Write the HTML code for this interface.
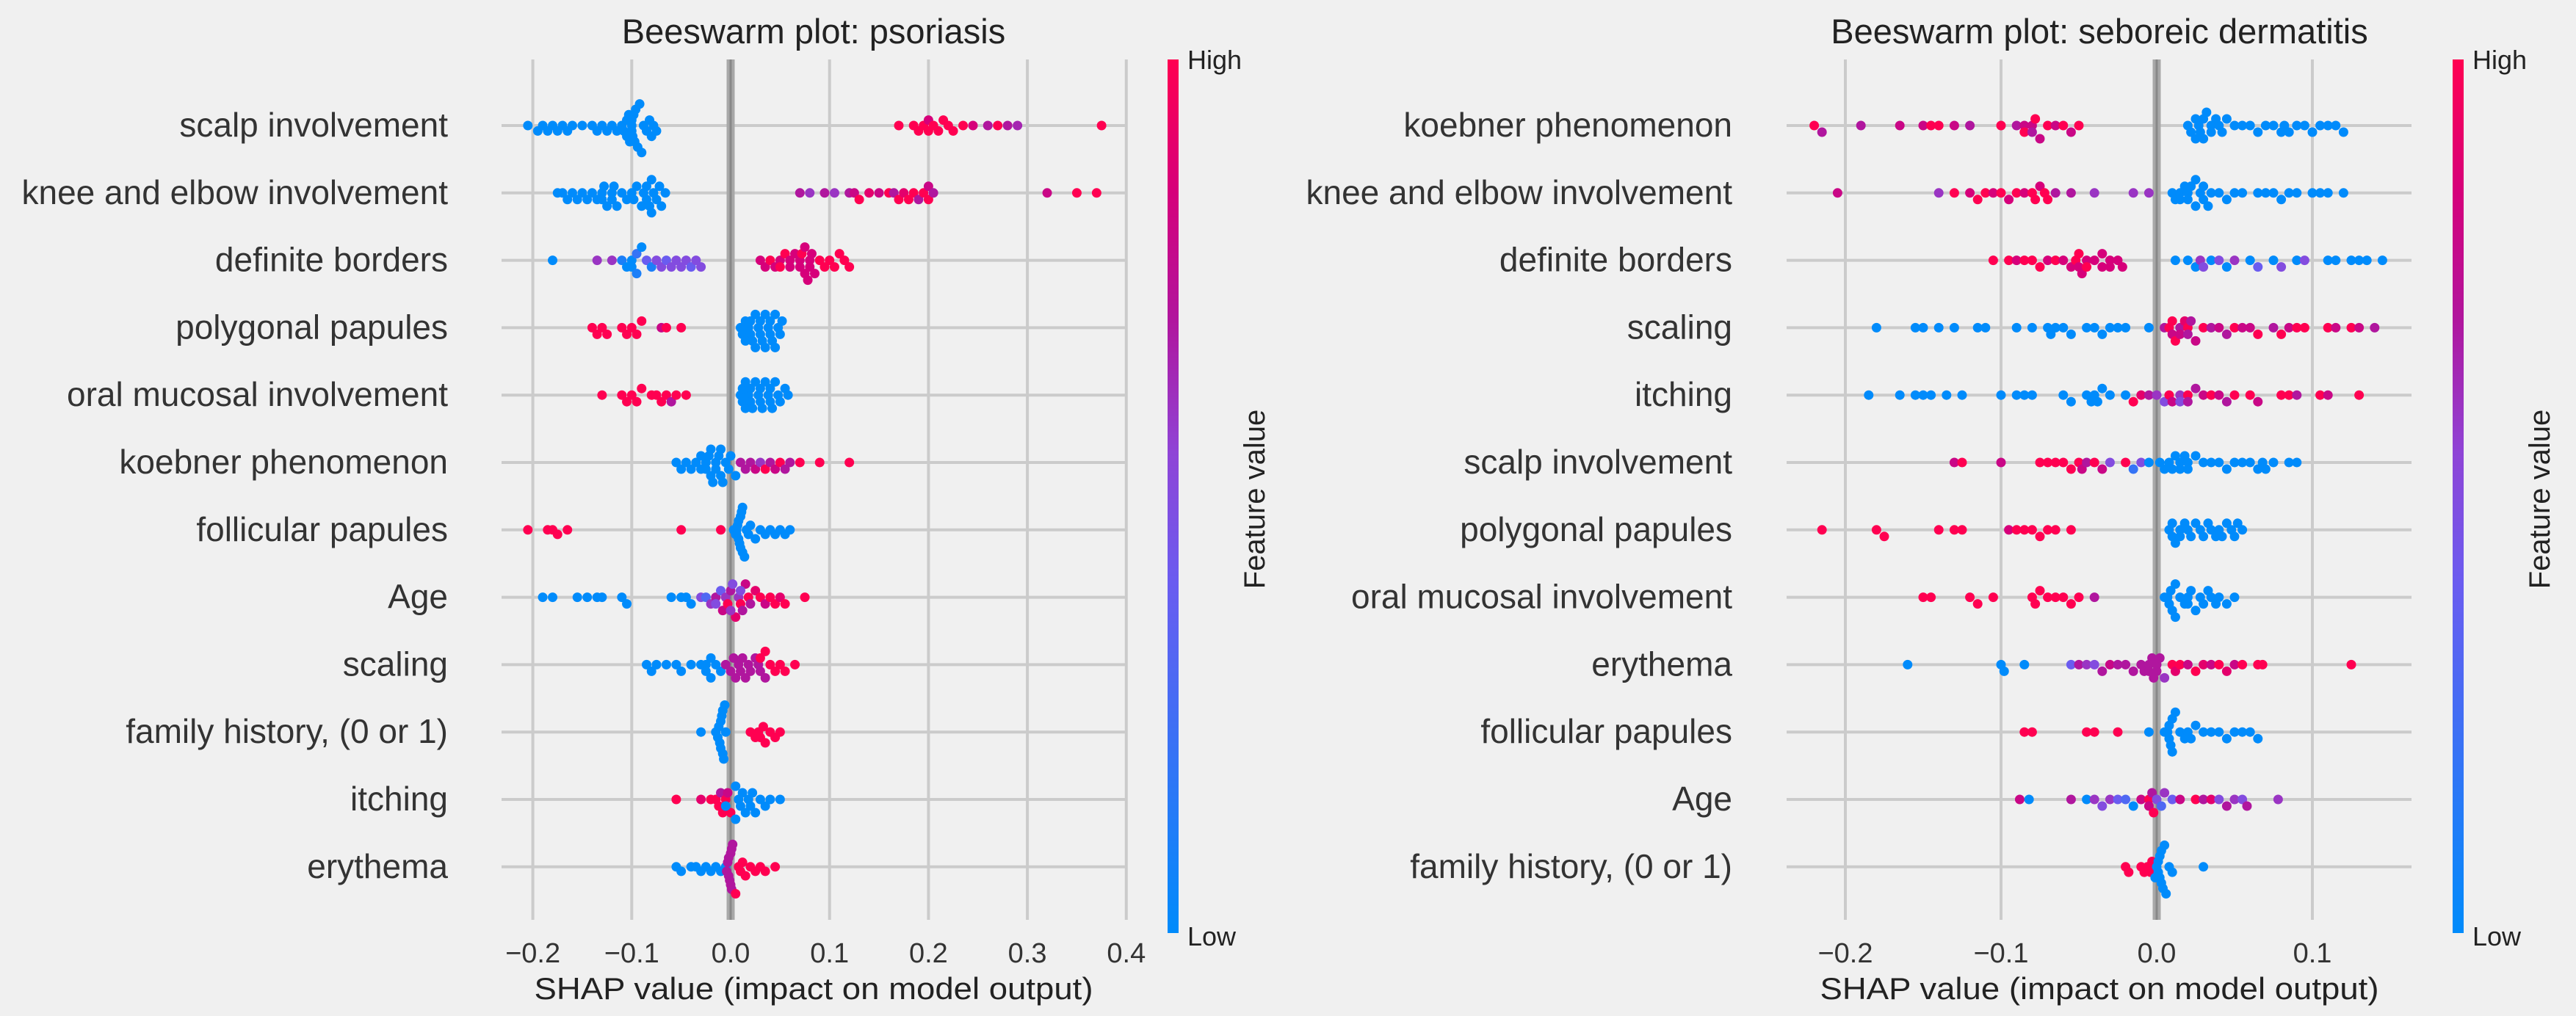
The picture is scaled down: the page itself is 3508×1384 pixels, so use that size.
<!DOCTYPE html>
<html><head><meta charset="utf-8"><style>
html,body{margin:0;padding:0;background:#f0f0f0;}
svg{display:block;font-family:"Liberation Sans",sans-serif;}
</style></head>
<body>
<svg id="chart" width="3508" height="1384" viewBox="0 0 3508 1384" xmlns="http://www.w3.org/2000/svg">
<defs>
<linearGradient id="cbar" x1="0" y1="1" x2="0" y2="0">
<stop offset="0" stop-color="#008bfb"/><stop offset="0.4" stop-color="#6a5cf0"/><stop offset="0.55" stop-color="#8f44d6"/><stop offset="0.7" stop-color="#b0169e"/><stop offset="0.85" stop-color="#d6007a"/><stop offset="1" stop-color="#ff0051"/>
</linearGradient>
</defs>
<rect x="0" y="0" width="3508" height="1384" fill="#f0f0f0"/>
</svg>
<script>
// ---------- DATA: psoriasis ----------
const psoFeatures = ["scalp involvement","knee and elbow involvement","definite borders","polygonal papules","oral mucosal involvement","koebner phenomenon","follicular papules","Age","scaling","family history, (0 or 1)","itching","erythema"];
const psoTicks = [-0.2,-0.1,0.0,0.1,0.2,0.3,0.4];
const psoTickLabels = ["\u22120.2","\u22120.1","0.0","0.1","0.2","0.3","0.4"];
const psoVals = [
[-0.205,-0.195,-0.19,-0.185,-0.18,-0.175,-0.17,-0.165,-0.16,-0.15,-0.14,-0.135,-0.13,-0.125,-0.12,-0.115,-0.11,-0.108,-0.105,-0.103,-0.1,-0.1,-0.098,-0.096,-0.094,-0.092,-0.09,-0.088,-0.085,-0.082,-0.08,-0.078,-0.075,-0.105,-0.1,-0.097,-0.102,-0.099,0.17,0.185,0.19,0.195,0.2,0.2,0.205,0.21,0.215,0.22,0.225,0.235,0.245,0.26,0.27,0.28,0.29,0.375],
[-0.175,-0.17,-0.165,-0.16,-0.155,-0.15,-0.145,-0.14,-0.135,-0.13,-0.128,-0.125,-0.12,-0.118,-0.115,-0.11,-0.105,-0.1,-0.098,-0.095,-0.09,-0.088,-0.085,-0.082,-0.08,-0.078,-0.075,-0.072,-0.07,-0.066,-0.13,-0.12,-0.085,-0.08,0.07,0.08,0.095,0.105,0.12,0.125,0.13,0.14,0.15,0.16,0.165,0.17,0.175,0.18,0.185,0.19,0.195,0.2,0.2,0.205,0.32,0.35,0.37],
[-0.18,-0.135,-0.12,-0.11,-0.105,-0.1,-0.095,-0.09,-0.085,-0.08,-0.075,-0.07,-0.065,-0.06,-0.055,-0.05,-0.045,-0.04,-0.035,-0.03,-0.1,-0.095,0.03,0.035,0.04,0.045,0.05,0.055,0.06,0.065,0.07,0.072,0.075,0.078,0.08,0.082,0.085,0.09,0.095,0.1,0.105,0.11,0.115,0.12,0.05,0.06,0.07,0.08,0.075],
[-0.14,-0.135,-0.13,-0.125,-0.11,-0.105,-0.1,-0.095,-0.09,-0.07,-0.065,-0.05,0.01,0.012,0.015,0.018,0.02,0.022,0.025,0.028,0.03,0.032,0.035,0.038,0.04,0.042,0.045,0.048,0.05,0.052,0.015,0.025,0.035,0.045,0.02,0.03,0.04],
[-0.13,-0.11,-0.105,-0.1,-0.095,-0.09,-0.08,-0.075,-0.07,-0.065,-0.06,-0.055,-0.045,0.01,0.012,0.015,0.018,0.02,0.022,0.025,0.028,0.03,0.032,0.035,0.038,0.04,0.042,0.045,0.048,0.05,0.055,0.058,0.012,0.02,0.03,0.04,0.015],
[-0.055,-0.05,-0.045,-0.04,-0.035,-0.03,-0.025,-0.022,-0.02,-0.018,-0.015,-0.012,-0.01,-0.008,-0.005,-0.002,0.0,0.005,-0.03,-0.02,-0.015,-0.01,-0.025,0.01,0.015,0.02,0.025,0.03,0.035,0.04,0.045,0.05,0.055,0.06,0.07,0.09,0.12],
[-0.205,-0.185,-0.18,-0.175,-0.165,-0.05,-0.01,0.003,0.005,0.006,0.007,0.008,0.009,0.01,0.011,0.012,0.014,0.016,0.018,0.02,0.025,0.03,0.035,0.04,0.045,0.05,0.055,0.06,0.008,0.01,0.012,0.006],
[-0.19,-0.18,-0.155,-0.145,-0.135,-0.13,-0.11,-0.105,-0.06,-0.05,-0.045,-0.04,-0.03,-0.025,-0.02,-0.015,-0.01,-0.008,-0.005,-0.003,0,0.002,0.005,0.008,0.01,0.012,0.015,0.018,0.02,0.025,0.03,0.035,0.04,0.045,0.05,0.055,0.075,-0.015,0.0,0.01],
[-0.085,-0.08,-0.075,-0.065,-0.055,-0.05,-0.04,-0.03,-0.025,-0.02,-0.015,-0.01,-0.025,-0.02,-0.005,0,0.003,0.005,0.008,0.01,0.012,0.015,0.018,0.02,0.025,0.028,0.03,0.035,0.03,0.035,0.04,0.045,0.05,0.055,0.065],
[-0.03,-0.015,-0.013,-0.011,-0.01,-0.009,-0.008,-0.007,-0.006,-0.005,-0.012,-0.01,-0.008,0.02,0.025,0.028,0.03,0.033,0.035,0.04,0.045,0.05],
[-0.055,-0.03,-0.02,-0.015,-0.012,-0.01,-0.008,-0.005,-0.003,0,0.005,0.008,0.01,0.012,0.015,0.018,0.02,0.022,0.025,0.03,0.035,0.04,0.05,-0.005,0.005],
[-0.055,-0.05,-0.04,-0.035,-0.03,-0.025,-0.02,-0.015,-0.01,-0.005,-0.004,-0.003,-0.002,-0.001,0,0.001,0.002,-0.002,0,0.001,0.005,0.008,0.01,0.012,0.015,0.02,0.025,0.03,0.035,0.045]
];
const psoFeat = [
[0,0,0,0,0,0,0,0,0,0,0,0,0,0,0,0,0,0,0,0,0,0,0,0,0,0,0,0,0,0,0,0,0,0,0,0,0,0,1,1,1,1,1,0.85,1,1,1,1,1,1,0.85,0.7,1,0.7,0.65,1],
[0,0,0,0,0,0,0,0,0,0,0,0,0,0,0,0,0,0,0,0,0,0,0,0,0,0,0,0,0,0,0,0,0,0,0.7,0.6,0.7,0.6,0.7,0.8,1,0.9,0.8,1,0.7,1,0.9,1,1,0.7,1,1,0.8,0.7,0.8,1,1],
[0,0.6,0.6,0.1,0,0,0.2,0,0.4,0.1,0.5,0.5,0.4,0.5,0.5,0.5,0.5,0.4,0.5,0.5,0,0.1,0.85,0.85,1,0.85,0.85,1,0.85,0.85,0.85,1,0.85,0.85,0.85,0.85,0.85,1,1,1,1,1,1,1,1,0.85,0.85,0.85,0.85],
[1,1,1,1,1,1,1,1,1,0.8,1,1,0,0,0,0,0,0,0,0,0,0,0,0,0,0,0,0,0,0,0,0,0,0,0,0,0],
[1,1,1,1,1,1,1,1,1,1,0.7,1,1,0,0,0,0,0,0,0,0,0,0,0,0,0,0,0,0,0,0,0,0,0,0,0,0],
[0,0,0,0,0,0,0,0,0,0,0,0,0,0,0,0,0,0,0,0,0,0,0,0.7,0.7,0.7,0.8,0.6,1,0.7,0.8,1,0.7,0.7,1,1,1],
[1,1,1,1,1,1,1,0,0,0,0,0,0,0,0,0,0,0,0,0,0,0,0,0,0,0,0,0,0,0,0,0],
[0,0,0,0,0,0,0,0,0,0,0,0,0.5,0.3,0.6,0.7,0.4,0.8,0.6,1,0.7,0.5,0.9,0.6,1,0.7,0.8,1,0.7,0.9,1,0.8,1,1,0.9,1,1,0.5,0.6,0.5],
[0,0,0,0,0,0,0,0,0,0,0,0,0,0,0.7,0.7,0.7,0.7,0.7,0.7,0.7,0.7,0.7,0.7,0.7,0.7,0.7,0.7,1,1,1,1,1,1,1],
[0,0,0,0,0,0,0,0,0,0,0,0,0,1,1,1,1,1,1,1,1,1],
[1,0.9,1,1,1,0.7,1,1,0.8,1,0,0,0,0,0,0,0,0,0,0,0,0,0,0,0],
[0,0,0,0,0,0,0,0,0,0,0.7,0.7,0.7,0.7,0.7,0.7,0.7,0.7,0.7,0.7,1,1,1,1,1,1,1,1,1,1]
];
// ---------- DATA: seboreic dermatitis ----------
const sebFeatures = ["koebner phenomenon","knee and elbow involvement","definite borders","scaling","itching","scalp involvement","polygonal papules","oral mucosal involvement","erythema","follicular papules","Age","family history, (0 or 1)"];
const sebTicks = [-0.2,-0.1,0.0,0.1];
const sebTickLabels = ["\u22120.2","\u22120.1","0.0","0.1"];
const sebVals = [
[-0.22,-0.215,-0.19,-0.165,-0.15,-0.145,-0.14,-0.13,-0.12,-0.1,-0.09,-0.085,-0.08,-0.078,-0.075,-0.07,-0.065,-0.06,-0.055,-0.05,-0.085,-0.08,0.02,0.022,0.025,0.027,0.028,0.03,0.032,0.035,0.038,0.04,0.042,0.045,0.05,0.055,0.06,0.065,0.07,0.075,0.08,0.082,0.085,0.09,0.095,0.1,0.105,0.11,0.115,0.12,0.025,0.03,0.035],
[-0.205,-0.14,-0.13,-0.12,-0.115,-0.11,-0.105,-0.1,-0.095,-0.09,-0.085,-0.08,-0.078,-0.075,-0.072,-0.07,-0.065,-0.055,-0.04,-0.015,-0.005,0.01,0.012,0.015,0.018,0.02,0.022,0.025,0.028,0.03,0.033,0.035,0.04,0.045,0.05,0.055,0.065,0.07,0.075,0.08,0.085,0.09,0.1,0.105,0.11,0.12,0.02,0.015,0.025,0.03],
[-0.105,-0.095,-0.09,-0.085,-0.08,-0.075,-0.07,-0.065,-0.06,-0.055,-0.052,-0.05,-0.048,-0.045,-0.04,-0.035,-0.03,-0.025,-0.022,-0.05,-0.045,-0.035,-0.03,0.012,0.02,0.025,0.028,0.03,0.035,0.04,0.045,0.05,0.06,0.065,0.075,0.08,0.09,0.095,0.11,0.115,0.125,0.13,0.135,0.145],
[-0.18,-0.155,-0.15,-0.14,-0.13,-0.115,-0.11,-0.09,-0.08,-0.07,-0.068,-0.065,-0.06,-0.055,-0.045,-0.04,-0.035,-0.03,-0.025,-0.02,-0.005,0.005,0.008,0.01,0.012,0.015,0.018,0.02,0.022,0.025,0.03,0.035,0.04,0.045,0.05,0.055,0.06,0.065,0.075,0.08,0.085,0.09,0.095,0.11,0.115,0.125,0.13,0.14,0.015,0.02,0.01],
[-0.185,-0.165,-0.155,-0.15,-0.145,-0.135,-0.125,-0.1,-0.09,-0.085,-0.08,-0.06,-0.055,-0.045,-0.042,-0.04,-0.038,-0.035,-0.03,-0.02,-0.015,-0.01,-0.005,0,0.005,0.008,0.01,0.015,0.02,0.025,0.03,0.035,0.04,0.045,0.05,0.06,0.065,0.08,0.085,0.09,0.105,0.11,0.13,0.015,0.02],
[-0.13,-0.125,-0.1,-0.075,-0.07,-0.065,-0.06,-0.055,-0.05,-0.048,-0.045,-0.04,-0.035,-0.03,-0.02,-0.015,-0.01,-0.005,0.002,0.005,0.008,0.01,0.012,0.015,0.018,0.02,0.025,0.03,0.035,0.04,0.045,0.05,0.055,0.06,0.065,0.068,0.07,0.075,0.085,0.09,0.015,0.02],
[-0.215,-0.18,-0.175,-0.14,-0.13,-0.125,-0.095,-0.09,-0.085,-0.08,-0.075,-0.07,-0.065,-0.055,0.008,0.01,0.012,0.015,0.018,0.02,0.022,0.025,0.028,0.03,0.033,0.035,0.038,0.04,0.042,0.045,0.048,0.05,0.052,0.055,0.01,0.015],
[-0.15,-0.145,-0.12,-0.115,-0.105,-0.08,-0.078,-0.075,-0.07,-0.065,-0.06,-0.055,-0.05,-0.04,0.005,0.007,0.009,0.01,0.012,0.015,0.018,0.02,0.022,0.025,0.028,0.03,0.033,0.035,0.038,0.04,0.045,0.05,0.008,0.012,0.02],
[-0.16,-0.1,-0.098,-0.085,-0.055,-0.05,-0.045,-0.04,-0.035,-0.03,-0.025,-0.02,-0.015,-0.01,-0.008,-0.005,-0.003,0,0.002,0.005,0.01,0.012,0.015,0.02,0.025,0.03,0.035,0.04,0.045,0.05,0.055,0.065,0.068,0.125,-0.005,-0.002,0],
[-0.085,-0.08,-0.045,-0.04,-0.025,-0.005,0.005,0.007,0.008,0.009,0.01,0.012,0.015,0.018,0.02,0.022,0.025,0.03,0.035,0.04,0.045,0.05,0.055,0.06,0.065,0.008,0.01],
[-0.088,-0.082,-0.055,-0.045,-0.04,-0.035,-0.03,-0.025,-0.02,-0.015,-0.01,-0.005,-0.003,0,0.003,0.005,0.01,0.015,0.025,0.03,0.035,0.04,0.045,0.05,0.055,0.058,0.078,-0.005,-0.002],
[-0.02,-0.018,-0.01,-0.008,-0.006,-0.004,-0.003,-0.001,0,0.001,0.002,0.003,0.004,0.005,0.006,0.008,0.01,0.03,0.001,0.002,0.003]
];
const sebFeat = [
[1,0.7,0.7,0.8,0.8,1,1,0.8,0.7,1,0.7,0.8,0.8,1,0.8,1,0.8,1,0.8,1,1,0.7,0,0,0,0,0,0,0,0,0,0,0,0,0,0,0,0,0,0,0,0,0,0,0,0,0,0,0,0,0,0,0],
[0.8,0.6,1,0.85,1,1,0.85,1,0.85,1,0.85,1,1,0.85,1,1,0.7,0.7,0.6,0.6,0.6,0,0,0,0,0,0,0,0,0,0,0,0,0,0,0,0,0,0,0,0,0,0,0,0,0,0,0,0,0],
[1,1,0.85,1,1,1,0.85,1,0.85,0.85,1,0.85,0.85,0.85,0.85,0.85,0.85,0.85,0.85,1,1,0.85,0.85,0,0,0,0.6,0.5,0,0.5,0,0.6,0,0.4,0,0.5,0,0.5,0,0,0,0,0,0],
[0,0,0,0,0,0,0,0,0,0,0,0,0,0,0,0,0,0,0,0,0,0.7,1,0.8,1,0.7,0.9,1,0.7,0.8,1,0.7,0.8,0.7,1,0.8,0.8,1,0.7,1,0.8,1,1,1,0.8,1,0.8,0.7,0.8,0.7,1],
[0,0,0,0,0,0,0,0,0,0,0,0,0,0,0,0,0,0,0,0,1,0.9,0.7,0.6,0.5,1,0.8,0.6,1,0.7,0.8,1,0.8,0.7,1,1,0.8,1,1,0.7,1,0.8,1,0.5,0.7],
[0.8,1,0.8,1,1,1,1,1,1,0.8,0.7,1,0.8,0.5,1,0.2,0.5,0,0,0,0,0,0,0,0,0,0,0,0,0,0,0,0,0,0,0,0,0,0,0,0,0],
[1,1,1,1,1,1,0.85,1,1,1,1,1,1,1,0,0,0,0,0,0,0,0,0,0,0,0,0,0,0,0,0,0,0,0,0,0],
[1,1,1,1,1,1,1,1,1,1,1,1,1,0.7,0,0,0,0,0,0,0,0,0,0,0,0,0,0,0,0,0,0,0,0,0],
[0,0,0,0,0.4,0.7,0.6,0.5,0.7,0.8,0.7,0.7,0.7,0.7,0.7,0.7,0.7,0.7,0.7,0.6,1,0.9,1,0.8,1,0.9,0.8,1,0.9,0.8,1,1,1,1,0.7,0.7,0.7],
[1,1,1,1,1,0,0,0,0,0,0,0,0,0,0,0,0,0,0,0,0,0,0,0,0,0,0],
[0.8,0,0.7,0,0.6,0.5,0.6,0.4,0.3,0,0.8,1,0.7,0.5,0.3,0.6,0.4,0.8,1,0.7,0.9,0.5,0.7,0.6,0.5,0.7,0.6,0.8,1],
[1,1,1,1,1,1,1,0,0,0,0,0,0,0,0,0,0,0,0,0,0]
];

const NS="http://www.w3.org/2000/svg";
const svg=document.getElementById('chart');
function mk(tag,attrs,parent){const e=document.createElementNS(NS,tag);for(const k in attrs)e.setAttribute(k,attrs[k]);(parent||svg).appendChild(e);return e;}
const stops=[[0,[0,139,251]],[0.4,[106,92,240]],[0.55,[143,68,214]],[0.7,[176,22,158]],[0.85,[214,0,122]],[1,[255,0,81]]];
function cmap(t){for(let i=1;i<stops.length;i++){if(t<=stops[i][0]){const a=stops[i-1],b=stops[i];const f=(t-a[0])/(b[0]-a[0]);const c=a[1].map((v,j)=>Math.round(v+(b[1][j]-v)*f));return `rgb(${c[0]},${c[1]},${c[2]})`;}}return 'rgb(255,0,81)';}

const GRID_TOP=81, GRID_BOT=1253;
function panel(o){
  const g=mk('g',{});
  
  
  const xs=v=>o.x0+v*o.pxPer;
  const ys=i=>o.yTop+i*o.rowH;
  const xMin=(o.axL-o.x0)/o.pxPer, xMax=(o.axR-o.x0)/o.pxPer;
  o.ticks.forEach((t,i)=>{
    const l=mk('line',{x1:xs(t),x2:xs(t),y1:GRID_TOP,y2:GRID_BOT,stroke:'#cbcbcb','stroke-width':4},g);
    
    
    const tx=mk('text',{x:xs(t),y:1311,'text-anchor':'middle','font-size':38,fill:'#333'},g);
    tx.textContent=o.tickLabels[i];
    
    
  });
  o.features.forEach((f,i)=>{
    const l=mk('line',{x1:o.axL,x2:o.axR,y1:ys(i),y2:ys(i),stroke:'#cbcbcb','stroke-width':4},g);
    
    
    const t=mk('text',{x:o.labR,y:ys(i)+15,'text-anchor':'end','font-size':46,fill:'#333'},g);
    t.textContent=f;
    
    
  });
  const z=mk('line',{x1:xs(0),x2:xs(0),y1:GRID_TOP,y2:GRID_BOT,stroke:'#a8a8a8','stroke-width':11},g);
  
  
  const z2=mk('line',{x1:xs(0),x2:xs(0),y1:GRID_TOP,y2:GRID_BOT,stroke:'#888888','stroke-width':3},g);
  
  
  o.vals.forEach((row,i)=>{
    const n=row.length,nbins=60;
    const order=row.map((v,k)=>k).sort((a,b)=>row[a]-row[b]);
    const q=row.map(v=>Math.round(nbins*(v-xMin)/(xMax-xMin)));
    const off=new Array(n).fill(0);
    let layer=0,last=-1;
    order.forEach(k=>{
      if(q[k]!==last){layer=0;}
      off[k]=Math.ceil(layer/2)*((layer%2)*2-1);
      layer++;last=q[k];
    });
    const maxOff=Math.max(1,...off.map(Math.abs));
    const scale=Math.min(9,o.rowH*0.4/maxOff);
    row.forEach((v,k)=>{
      const c=mk('circle',{cx:xs(v),cy:ys(i)+off[k]*scale,r:6.5,fill:cmap(o.feat[i][k])},g);
      
      
    });
  });
  const ti=mk('text',{x:o.titleX,y:59,'text-anchor':'middle','font-size':47,fill:'#222'},g);
  ti.textContent=o.title;
  
  
  const xl=mk('text',{x:o.titleX,y:1361,'text-anchor':'middle','font-size':42,fill:'#222',textLength:761,lengthAdjust:'spacingAndGlyphs'},g);
  xl.textContent='SHAP value (impact on model output)';
  
  
  const cb=mk('rect',{x:o.cbX,y:81,width:15,height:1190,fill:'url(#cbar)'},g);
  
  
  const hi=mk('text',{x:o.cbX+27,y:94,'font-size':36,fill:'#222'},g);
  hi.textContent='High';
  
  
  const lo=mk('text',{x:o.cbX+27,y:1288,'font-size':36,fill:'#222'},g);
  lo.textContent='Low';
  
  
  const fv=mk('text',{x:o.cbX+132,y:680,'text-anchor':'middle','font-size':40,fill:'#222',transform:`rotate(-90 ${o.cbX+132} 680)`},g);
  fv.textContent='Feature value';
  
  
}
panel({name:'psoriasis-panel',title:'Beeswarm plot: psoriasis',features:psoFeatures,ticks:psoTicks,tickLabels:psoTickLabels,vals:psoVals,feat:psoFeat,x0:995,pxPer:1347,axL:683,axR:1533,yTop:171,rowH:91.8,labR:610,titleX:1108,cbX:1590});
panel({name:'seboreic-dermatitis-panel',title:'Beeswarm plot: seboreic dermatitis',features:sebFeatures,ticks:sebTicks,tickLabels:sebTickLabels,vals:sebVals,feat:sebFeat,x0:2937,pxPer:2120,axL:2433,axR:3284,yTop:171,rowH:91.8,labR:2359,titleX:2859,cbX:3340});
</script>
</body></html>
